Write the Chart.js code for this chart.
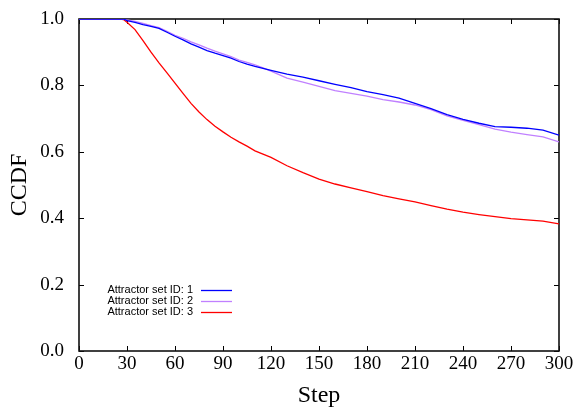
<!DOCTYPE html>
<html>
<head>
<meta charset="utf-8">
<script src="https://cdn.jsdelivr.net/npm/chart.js@4/dist/chart.umd.min.js"></script>
<style>
  html, body { margin: 0; padding: 0; background: #fff; }
  #wrap { width: 576px; height: 413px; }
</style>
</head>
<body>
<div id="wrap"><canvas id="c" width="576" height="413"></canvas></div>
<script>
// Steps at which each CCDF curve is sampled
const steps = [0, 10, 20, 25, 28, 30, 35, 40, 45, 50, 55, 60, 65, 70, 75, 80, 85, 90, 95, 100,
  105, 110, 115, 120, 130, 140, 150, 160, 170, 180, 190, 200, 210, 220, 230, 240, 250, 260,
  270, 280, 290, 300];

const set1 = [1, 1, 1, 1, 1, 0.995, 0.99, 0.983, 0.978, 0.972, 0.96, 0.948, 0.937, 0.925, 0.915,
  0.905, 0.897, 0.89, 0.882, 0.872, 0.864, 0.857, 0.851, 0.845, 0.834, 0.825, 0.814, 0.803,
  0.793, 0.781, 0.772, 0.762, 0.746, 0.73, 0.712, 0.698, 0.686, 0.676, 0.674, 0.671, 0.665, 0.65];

const set2 = [1, 1, 1, 1, 1, 0.997, 0.993, 0.987, 0.98, 0.974, 0.963, 0.951, 0.942, 0.931, 0.922,
  0.912, 0.903, 0.895, 0.887, 0.876, 0.869, 0.862, 0.853, 0.843, 0.822, 0.81, 0.797, 0.784,
  0.776, 0.768, 0.757, 0.75, 0.741, 0.727, 0.708, 0.695, 0.682, 0.668, 0.659, 0.652, 0.645, 0.63];

const set3 = [1, 1, 1, 1, 0.998, 0.99, 0.968, 0.935, 0.9, 0.868, 0.838, 0.807, 0.776, 0.746,
  0.72, 0.697, 0.677, 0.66, 0.644, 0.63, 0.617, 0.603, 0.593, 0.583, 0.558, 0.537, 0.518, 0.503,
  0.491, 0.48, 0.468, 0.458, 0.449, 0.438, 0.427, 0.418, 0.411, 0.405, 0.399, 0.395, 0.391, 0.383];

const seriesLabels = ['Attractor set ID: 1', 'Attractor set ID: 2', 'Attractor set ID: 3'];
const seriesColors = ['#0000ff', '#c080ff', '#ff0000'];
const xTicks = [0, 30, 60, 90, 120, 150, 180, 210, 240, 270, 300];
const yTicks = [0.0, 0.2, 0.4, 0.6, 0.8, 1.0];

const serif = "'Liberation Serif', 'Times New Roman', serif";
const sans = "'Liberation Sans', Arial, sans-serif";

function toPoints(vals) {
  return steps.map((s, i) => ({ x: s, y: vals[i] }));
}

// Frame with inward tick marks on all four sides
const framePlugin = {
  id: 'frame',
  beforeDatasetsDraw(chart) {
    const { ctx, chartArea: a, scales } = chart;
    const len = 5;
    ctx.save();
    ctx.strokeStyle = '#000';
    ctx.lineWidth = 1;
    ctx.beginPath();
    xTicks.forEach(v => {
      const px = Math.round(scales.x.getPixelForValue(v)) + 0.5;
      ctx.moveTo(px, a.bottom); ctx.lineTo(px, a.bottom - len);
      ctx.moveTo(px, a.top); ctx.lineTo(px, a.top + len);
    });
    yTicks.forEach(v => {
      const py = Math.round(scales.y.getPixelForValue(v)) + 0.5;
      ctx.moveTo(a.left, py); ctx.lineTo(a.left + len, py);
      ctx.moveTo(a.right, py); ctx.lineTo(a.right - len, py);
    });
    ctx.stroke();
    ctx.lineWidth = 1.6;
    ctx.strokeStyle = '#111';
    ctx.strokeRect(a.left, a.top, a.right - a.left, a.bottom - a.top);
    ctx.restore();
  }
};

// Key in the lower left of the plot: label text right-aligned, line sample after it
const keyPlugin = {
  id: 'key',
  afterDatasetsDraw(chart) {
    const { ctx, chartArea: a } = chart;
    const textRight = a.left + 114;
    const lineStart = a.left + 122;
    const lineEnd = a.left + 153;
    const firstY = a.bottom - 61;
    const rowH = 10.8;
    ctx.save();
    ctx.font = '11px ' + sans;
    ctx.textAlign = 'right';
    ctx.textBaseline = 'middle';
    chart.data.datasets.forEach((ds, i) => {
      const y = firstY + i * rowH;
      ctx.fillStyle = '#000';
      ctx.fillText(ds.label, textRight, y);
      ctx.strokeStyle = ds.borderColor;
      ctx.lineWidth = 1.3;
      ctx.beginPath();
      ctx.moveTo(lineStart, Math.round(y) + 0.5);
      ctx.lineTo(lineEnd, Math.round(y) + 0.5);
      ctx.stroke();
    });
    ctx.restore();
  }
};

const datasets = [set1, set2, set3].map((vals, i) => ({
  label: seriesLabels[i],
  data: toPoints(vals),
  borderColor: seriesColors[i],
  backgroundColor: seriesColors[i],
  borderWidth: 1.3,
  pointRadius: 0,
  tension: 0,
  fill: false
}));

new Chart(document.getElementById('c'), {
  type: 'line',
  data: { datasets },
  options: {
    responsive: false,
    animation: false,
    devicePixelRatio: 1,
    layout: { padding: { left: 0, right: 17, top: 19, bottom: 0 } },
    plugins: { legend: { display: false }, tooltip: { enabled: false } },
    scales: {
      x: {
        type: 'linear',
        min: 0, max: 300,
        afterFit(scale) { scale.height = 62; },
        afterBuildTicks(scale) { scale.ticks = xTicks.map(v => ({ value: v })); },
        grid: { display: false },
        border: { display: false },
        ticks: {
          color: '#000',
          font: { family: serif, size: 19 },
          padding: -6,
          maxRotation: 0,
          autoSkip: false,
          callback: v => String(v)
        },
        title: {
          display: true,
          text: 'Step',
          color: '#000',
          font: { family: serif, size: 24, lineHeight: 1.2 },
          padding: { top: 0, bottom: 3 }
        }
      },
      y: {
        type: 'linear',
        min: 0, max: 1,
        afterFit(scale) { scale.width = 79; },
        afterBuildTicks(scale) { scale.ticks = yTicks.map(v => ({ value: v })); },
        grid: { display: false },
        border: { display: false },
        ticks: {
          color: '#000',
          font: { family: serif, size: 19 },
          padding: 7,
          callback: v => Number(v).toFixed(1)
        },
        title: {
          display: true,
          text: 'CCDF',
          color: '#000',
          font: { family: serif, size: 24, lineHeight: 1.2 },
          padding: { top: 5, bottom: 0 }
        }
      }
    }
  },
  plugins: [framePlugin, keyPlugin]
});
</script>
</body>
</html>
